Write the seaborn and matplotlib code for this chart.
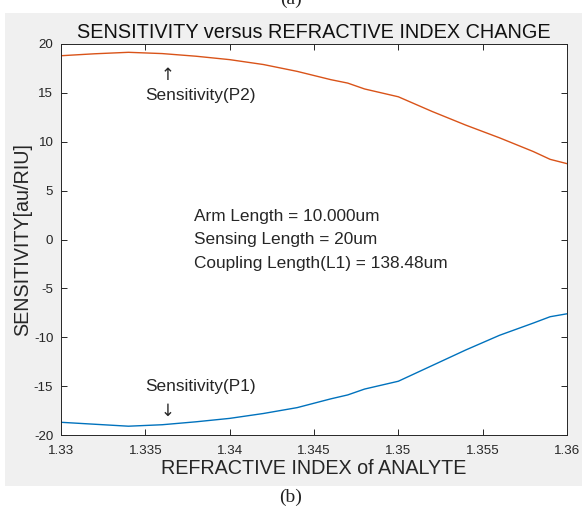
import numpy as np
import pandas as pd
import matplotlib
matplotlib.use("Agg")
import matplotlib.pyplot as plt
import seaborn as sns
from matplotlib.patches import Rectangle

# ---- data ----
refractive_index = [1.330, 1.332, 1.334, 1.336, 1.338, 1.340, 1.342, 1.344, 1.346,
                    1.347, 1.348, 1.350, 1.352, 1.354, 1.356, 1.358, 1.359, 1.360]
sensitivity_p2 = [18.8, 19.0, 19.15, 19.02, 18.75, 18.4, 17.9, 17.2, 16.35,
                  16.0, 15.4, 14.6, 13.1, 11.7, 10.4, 9.0, 8.2, 7.76]
sensitivity_p1 = [-18.7, -18.9, -19.1, -18.95, -18.65, -18.3, -17.8, -17.2, -16.3,
                  -15.9, -15.3, -14.5, -12.9, -11.3, -9.8, -8.55, -7.9, -7.6]
x_ticks = [1.33, 1.335, 1.34, 1.345, 1.35, 1.355, 1.36]
x_tick_labels = ["1.33", "1.335", "1.34", "1.345", "1.35", "1.355", "1.36"]
y_ticks = [-20, -15, -10, -5, 0, 5, 10, 15, 20]
info_lines = ["Arm Length = 10.000um", "Sensing Length = 20um", "Coupling Length(L1) = 138.48um"]

df = pd.DataFrame({
    "n": refractive_index * 2,
    "s": sensitivity_p1 + sensitivity_p2,
    "series": ["P1"] * len(refractive_index) + ["P2"] * len(refractive_index),
})

sns.set_style("white")
plt.rcParams["font.family"] = ["Liberation Sans", "DejaVu Sans"]
plt.rcParams["axes.unicode_minus"] = False

W, H = 582, 509
fig = plt.figure(figsize=(W / 100, H / 100), dpi=100)
fig.patch.set_facecolor("white")
fig.patches.append(Rectangle((5 / W, 1 - 486 / H), (582 - 5) / W, (486 - 13) / H,
                             transform=fig.transFigure, facecolor="#f0f0f0",
                             edgecolor="none", zorder=-10))

ax = fig.add_axes([61 / W, 1 - 435 / H, (567 - 61) / W, (435 - 44) / H])
ax.set_facecolor("white")

sns.lineplot(data=df, x="n", y="s", hue="series", ax=ax,
             palette={"P1": "#0072BD", "P2": "#D95319"}, linewidth=1.0,
             legend=False, estimator=None, sort=False)

ax.set_xlim(1.33, 1.36)
ax.set_ylim(-20, 20)
ax.set_xticks(x_ticks)
ax.set_xticklabels(x_tick_labels)
ax.set_yticks(y_ticks)
ax.tick_params(direction="in", length=4, width=0.7, colors="#262626",
               labelsize=9.6, top=True, right=True, bottom=True, left=True)
ax.tick_params(axis="x", pad=7)
ax.tick_params(axis="y", pad=5.5)
for sp in ax.spines.values():
    sp.set_visible(True)
    sp.set_color("#262626")
    sp.set_linewidth(0.7)

ax.set_xlabel("REFRACTIVE INDEX of ANALYTE", fontsize=14.2, color="#262626", labelpad=2)
ax.set_ylabel("SENSITIVITY[au/RIU]", fontsize=14.2, color="#262626", labelpad=1)
ax.set_title("SENSITIVITY versus REFRACTIVE INDEX CHANGE", fontsize=14.3,
             color="#111111", pad=4)

txt_kw = dict(fontsize=12.4, color="#262626")
ax.text(1.3363, 16.8, "↑", ha="center", va="center", fontsize=12, color="#262626",
        family=["DejaVu Sans"])
ax.text(1.3350, 14.7, "Sensitivity(P2)", ha="left", va="center", **txt_kw)
ax.text(1.3350, -15.0, "Sensitivity(P1)", ha="left", va="center", **txt_kw)
ax.text(1.3363, -17.55, "↓", ha="center", va="center", fontsize=12, color="#262626",
        family=["DejaVu Sans"])
for i, line in enumerate(info_lines):
    ax.text(1.3379, 2.35 - i * 2.4, line, ha="left", va="center", **txt_kw)

fig.text(0.5, 1 - 497 / H, "(b)", ha="center", va="center", fontsize=14,
         family=["Liberation Serif"], color="#222222")
fig.text(0.5, 1 - (-1) / H, "(a)", ha="center", va="center", fontsize=14,
         family=["Liberation Serif"], color="#222222")

fig.savefig("out.png", dpi=100)
